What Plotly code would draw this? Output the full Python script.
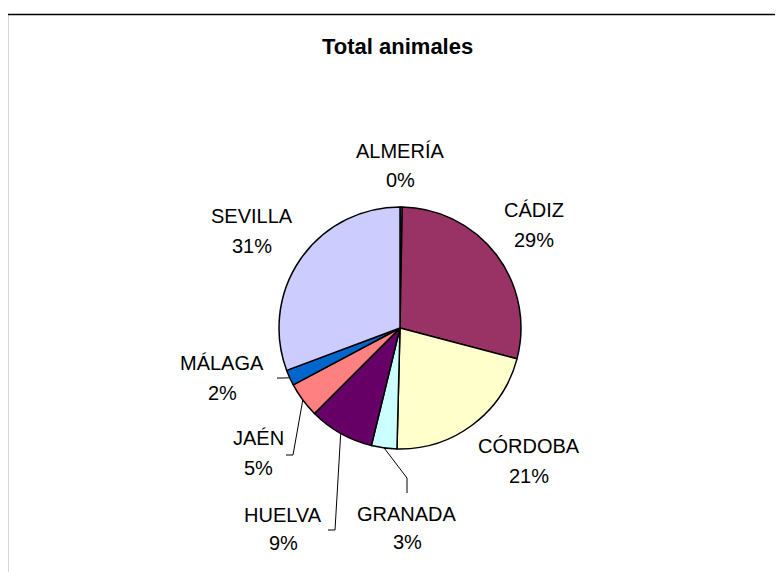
import math
import plotly.graph_objects as go

# Total animales por provincia (porcentaje del total)
provincias = ["ALMERÍA", "CÁDIZ", "CÓRDOBA", "GRANADA", "HUELVA", "JAÉN", "MÁLAGA", "SEVILLA"]
valores = [0.3, 28.8, 21.3, 3.4, 8.7, 4.7, 2.1, 30.7]
colores = ["#9999FF", "#993366", "#FFFFCC", "#CCFFFF", "#660066", "#FF8080", "#0066CC", "#CCCCFF"]

OFF = 8  # the page body margin shifts the plot by 8px
W, H = 783 - OFF, 572 - OFF  # fill the window exactly, no overflow
CX, CY, R = 400, 328, 121  # pie centre and radius (page px)
FONT = "Liberation Sans, Arial, sans-serif"


def px_x(x):
    return (x - OFF) / W


def px_y(y):
    return 1 - (y - OFF) / H


# label centres (page px): name line and percent line, like the excel chart
label_pos = {
    "ALMERÍA": (400, 151, 180),
    "CÁDIZ": (534, 210, 240),
    "CÓRDOBA": (529, 446, 476),
    "GRANADA": (407, 514, 542),
    "HUELVA": (283, 515, 543),
    "JAÉN": (258, 438, 468),
    "MÁLAGA": (222, 363, 393),
    "SEVILLA": (252, 216, 246),
}
# leader line way points for the small slices (start is on the slice edge)
leader_pts = {
    "GRANADA": [(407, 478), (407, 493)],
    "HUELVA": [(335, 530), (328, 530)],
    "JAÉN": [(293, 455), (286, 455)],
    "MÁLAGA": [(283, 378), (277, 378)],
}

fig = go.Figure(go.Pie(
    labels=provincias,
    values=valores,
    sort=False,
    direction="clockwise",
    rotation=0,
    textinfo="none",
    hoverinfo="label+percent",
    marker=dict(colors=colores, line=dict(color="black", width=1.5)),
    domain=dict(x=[px_x(CX - R), px_x(CX + R)], y=[px_y(CY + R), px_y(CY - R)]),
    showlegend=False,
))

total = sum(valores)
annotations = []
# chart area frame (its bottom edge is off the picture)
shapes = [dict(type="rect", xref="paper", yref="paper",
               x0=px_x(7.5), x1=px_x(780.5), y0=-0.1, y1=px_y(14.5),
               line=dict(color="black", width=1.3), fillcolor="rgba(0,0,0,0)")]
acum = 0
for nombre, v in zip(provincias, valores):
    mid = (acum + v / 2) / total * 2 * math.pi
    acum += v
    lx, ly1, ly2 = label_pos[nombre]
    pct = round(v / total * 100)
    for txt, ly in ((nombre, ly1), (f"{pct}%", ly2)):
        annotations.append(dict(x=px_x(lx), y=px_y(ly), xref="paper", yref="paper",
                                xanchor="center", yanchor="middle",
                                text=txt, showarrow=False,
                                font=dict(family=FONT, size=20, color="black")))
    if nombre in leader_pts:
        sx = CX + R * math.sin(mid)
        sy = CY - R * math.cos(mid)
        path = f"M {px_x(sx)},{px_y(sy)}"
        for ex, ey in leader_pts[nombre]:
            path += f" L {px_x(ex)},{px_y(ey)}"
        shapes.append(dict(type="path", xref="paper", yref="paper", path=path,
                           line=dict(color="black", width=1)))

fig.update_layout(
    width=W, height=H,
    margin=dict(l=0, r=0, t=0, b=0),
    paper_bgcolor="white",
    plot_bgcolor="white",
    annotations=annotations + [dict(
        text="<b>Total animales</b>", x=px_x(398), y=px_y(46), xref="paper", yref="paper",
        xanchor="center", yanchor="middle", showarrow=False,
        font=dict(family=FONT, size=22, color="black"))],
    shapes=shapes,
)

fig.write_html("out.html")
